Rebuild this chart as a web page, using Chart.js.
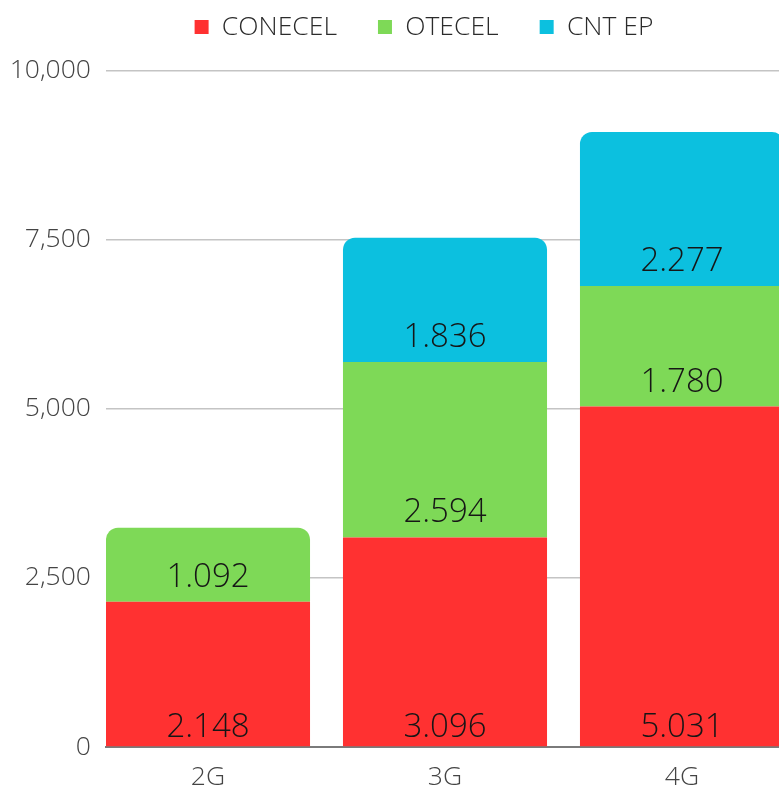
<!DOCTYPE html>
<html><head><meta charset="utf-8">
<script src="https://cdn.jsdelivr.net/npm/chart.js@4/dist/chart.umd.min.js"></script>
<style>html,body{margin:0;padding:0;background:#fff;overflow:hidden}#wrap{width:779px;height:787px;position:relative}</style>
</head><body><div id="wrap"><canvas id="c" width="779" height="787"></canvas></div>
<script>
// ---- data ----
const categories = ['2G', '3G', '4G'];
const seriesNames = ['CONECEL', 'OTECEL', 'CNT EP'];
const conecel = [2148, 3096, 5031];
const otecel = [1092, 2594, 1780];
const cntEp = [null, 1836, 2277];
const yTickValues = [0, 2500, 5000, 7500, 10000];
const seriesColors = ['#FF3131', '#7ED957', '#0CC0DF'];

const allSeries = [conecel, otecel, cntEp];
const FONT = "'Open Sans', 'Noto Sans', sans-serif";
Chart.defaults.font.family = FONT;
Chart.defaults.font.weight = 300;

function fmtDot(v) { return String(v).replace(/\B(?=(\d{3})+(?!\d))/g, '.'); }

function topIndex(dataIndex) {
  let top = -1;
  allSeries.forEach((s, k) => { if (s[dataIndex] != null) top = k; });
  return top;
}

const valueLabels = {
  id: 'valueLabels',
  afterDatasetsDraw(chart, args, opts) {
    const ctx = chart.ctx;
    ctx.save();
    ctx.font = '300 33px ' + FONT;
    ctx.fillStyle = '#161616';
    ctx.textAlign = 'center';
    ctx.textBaseline = 'alphabetic';
    chart.data.datasets.forEach((ds, di) => {
      const meta = chart.getDatasetMeta(di);
      meta.data.forEach((bar, i) => {
        const v = ds.data[i].y;
        if (v == null) return;
        const p = bar.getProps(['x', 'base'], true);
        ctx.fillText(fmtDot(v), p.x, p.base - opts.offsets[di]);
      });
    });
    ctx.restore();
  }
};

const datasets = allSeries.map((s, k) => ({
  label: seriesNames[k],
  data: s.map((v, i) => ({ x: i, y: v })),
  xAxisID: 'x',
  yAxisID: 'y',
  backgroundColor: seriesColors[k],
  borderWidth: 0,
  categoryPercentage: 1,
  barPercentage: 0.861,
  borderRadius: (c) => (topIndex(c.dataIndex) === c.datasetIndex
    ? { topLeft: 12, topRight: 12, bottomLeft: 0, bottomRight: 0 } : 0),
  borderSkipped: 'start'
}));

new Chart(document.getElementById('c'), {
  type: 'bar',
  data: { datasets },
  plugins: [valueLabels],
  options: {
    responsive: false,
    animation: false,
    devicePixelRatio: 1,
    locale: 'en-US',
    layout: { padding: { top: -27.25, left: 0, right: -69, bottom: 0 } },
    plugins: {
      valueLabels: { offsets: [9, 15, 15] },
      tooltip: { enabled: false },
      legend: {
        position: 'top',
        align: 'center',
        labels: {
          boxWidth: 14, boxHeight: 14, padding: 41,
          color: '#2b2b2b',
          font: { size: 26.5, weight: 300, family: FONT }
        }
      }
    },
    scales: {
      spacer: {
        type: 'linear',
        position: 'top',
        display: true,
        min: 0, max: 1,
        afterFit(s) { s.height = 20; },
        ticks: { display: false },
        grid: { display: false, drawTicks: false },
        border: { display: false }
      },
      x: {
        type: 'linear',
        stacked: true,
        offset: false,
        bounds: 'data',
        min: -0.4304,
        max: 2.4093,
        afterFit(s) { s.height = 40; },
        afterBuildTicks(s) { s.ticks = categories.map((_, i) => ({ value: i })); },
        grid: { display: true, color: 'rgba(0,0,0,0)', drawTicks: false, offset: false },
        border: { display: true, color: '#7a7a7a', width: 2 },
        ticks: {
          padding: 15,
          color: '#444',
          font: { size: 26.5, weight: 300, family: FONT },
          callback: (v) => categories[v]
        }
      },
      y: {
        stacked: true,
        min: 0,
        max: 10000,
        afterFit(s) { s.width = 106; },
        afterBuildTicks(s) { s.ticks = yTickValues.map(v => ({ value: v })); },
        grid: { color: '#c4c4c4', lineWidth: 1.5, drawTicks: false },
        border: { display: false },
        ticks: {
          padding: 15,
          color: '#444',
          font: { size: 26.5, weight: 300, family: FONT }
        }
      }
    }
  }
});
</script></body></html>
